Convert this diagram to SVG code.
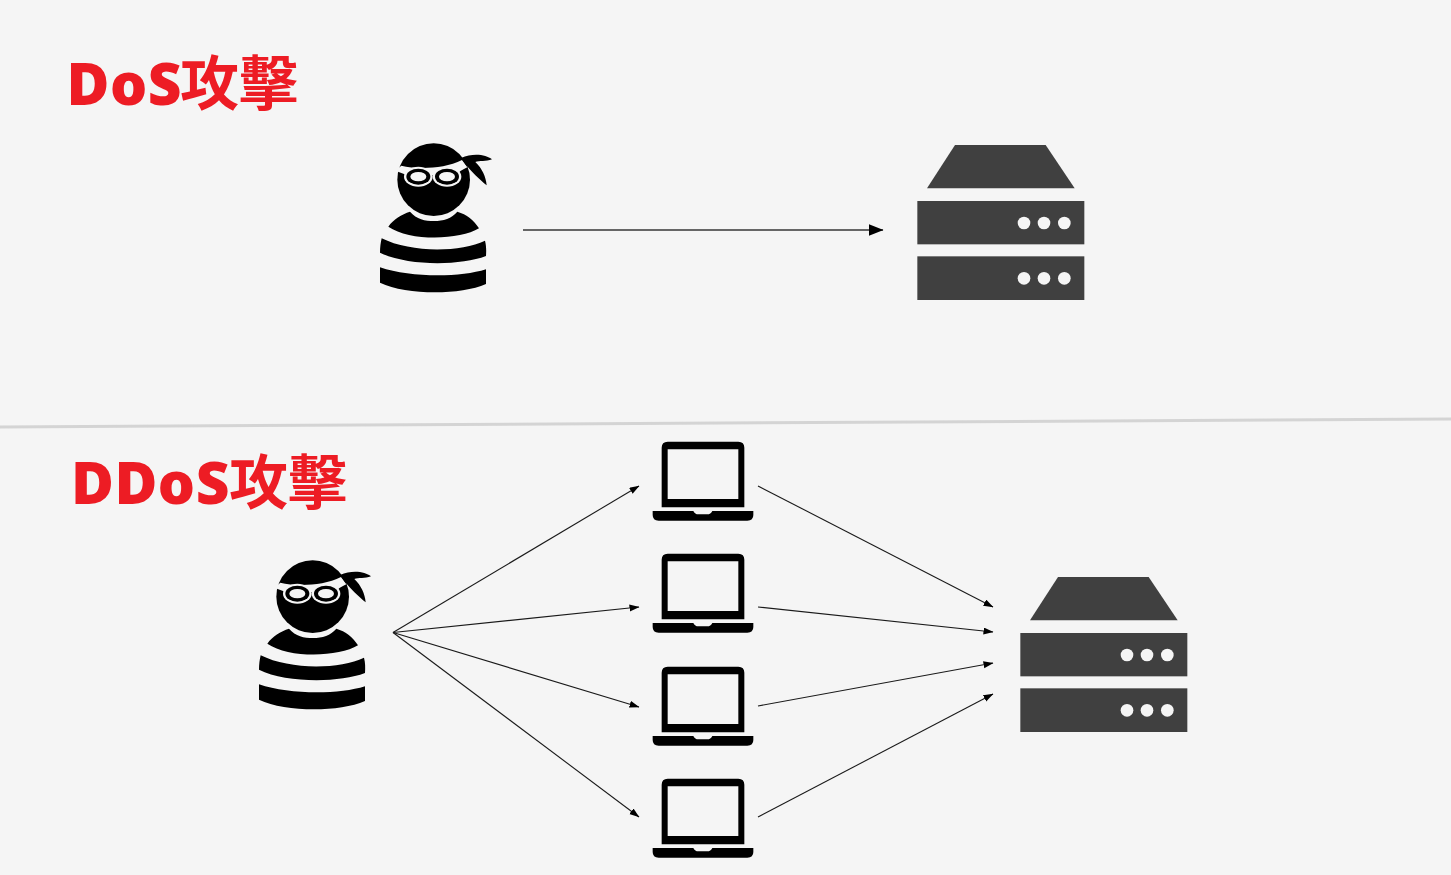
<svg xmlns="http://www.w3.org/2000/svg" width="1451" height="875" viewBox="0 0 1451 875">
<style>
.title{font-family:"Open Sans","Noto Sans CJK TC",sans-serif;font-weight:800;font-size:58.5px;letter-spacing:.5px;fill:#ed1c24}
.cjk{font-family:"Noto Sans CJK TC",sans-serif;font-weight:700;font-size:59px;letter-spacing:0}
.conn{fill:none;stroke:#1a1a1a;stroke-width:1.1;marker-end:url(#arrow)}
.conn-main{fill:none;stroke:#666;stroke-width:2;marker-end:url(#arrow-big)}
.srv{fill:#404040}
.dot{fill:#f5f5f5}
</style>
<defs>
<marker id="arrow" markerWidth="10" markerHeight="8" refX="9.5" refY="3.5" orient="auto" markerUnits="userSpaceOnUse"><path d="M0 0L10 3.5L0 7Z" fill="#000"/></marker>
<marker id="arrow-big" markerWidth="15" markerHeight="12" refX="14.5" refY="6" orient="auto" markerUnits="userSpaceOnUse"><path d="M0 0L15 6L0 12Z" fill="#000"/></marker>
<g id="thief" transform="scale(.33333)">
<circle cx="221" cy="149" r="109" fill="#000"/>
<path d="M106 122L124 107C170 118 250 118 306 90L322 112C305 120 295 127 290 135L140 135Z" fill="#f5f5f5"/>
<ellipse cx="175" cy="140" rx="43" ry="30" fill="#f5f5f5"/>
<ellipse cx="261" cy="140" rx="43" ry="30" fill="#f5f5f5"/>
<ellipse cx="175" cy="140" rx="36" ry="24" fill="#000"/>
<ellipse cx="261" cy="140" rx="36" ry="24" fill="#000"/>
<ellipse cx="175" cy="140" rx="24" ry="14" fill="#f5f5f5"/>
<ellipse cx="261" cy="140" rx="24" ry="14" fill="#f5f5f5"/>
<path d="M303 84C340 68 378 74 396 88C378 96 358 91 346 96C366 115 378 140 380 166C360 150 335 125 318 105Z" fill="#000"/>
<path d="M85 290C100 268 125 253 150 245C170 268 195 273 222 273C250 273 275 265 292 245C320 253 342 270 357 295C300 330 150 335 85 290Z" fill="#000"/>
<path d="M65 325C150 368 300 368 375 332C379 347 379 362 378 378C300 408 140 408 60 368C60 352 62 338 65 325Z" fill="#000"/>
<path d="M60 412C150 443 300 443 378 418L378 462C300 496 140 496 60 458Z" fill="#000"/>
</g>
<g id="laptop" transform="scale(.33333)">
<path fill-rule="evenodd" d="M83 35H295Q313 35 313 53V232H65V53Q65 35 83 35ZM83 58V207H295V58Z" fill="#000"/>
<path d="M38 243H160Q165 253 175 253H202Q212 253 217 243H340V255Q340 272 322 272H56Q38 272 38 255Z" fill="#000"/>
</g>
<g id="server" transform="scale(.33333)">
<path class="srv" d="M165 30H437L524 160H81Z"/>
<rect class="srv" x="52" y="198" width="501" height="130"/>
<rect class="srv" x="52" y="364" width="501" height="131"/>
<circle class="dot" cx="372" cy="264" r="19"/><circle class="dot" cx="432" cy="264" r="19"/><circle class="dot" cx="493" cy="264" r="19"/>
<circle class="dot" cx="372" cy="430" r="19"/><circle class="dot" cx="432" cy="430" r="19"/><circle class="dot" cx="493" cy="430" r="19"/>
</g>
</defs>
<rect width="1451" height="875" fill="#f5f5f5"/>
<path d="M0 427L1451 419" stroke="#d4d4d4" stroke-width="3" fill="none"/>
<text id="title-dos" class="title" x="66.5" y="105">DoS<tspan class="cjk" x="180">攻擊</tspan></text>
<text id="title-ddos" class="title" x="71" y="504">DDoS<tspan class="cjk" x="229">攻擊</tspan></text>
<g id="dos-attacker"><use href="#thief" transform="translate(360 130)"/></g>
<g id="dos-server"><use href="#server" transform="translate(900 135)"/></g>
<g id="ddos-attacker"><use href="#thief" transform="translate(239 547)"/></g>
<g id="bot-1"><use href="#laptop" transform="translate(640 430)"/></g>
<g id="bot-2"><use href="#laptop" transform="translate(640 542)"/></g>
<g id="bot-3"><use href="#laptop" transform="translate(640 655)"/></g>
<g id="bot-4"><use href="#laptop" transform="translate(640 767)"/></g>
<g id="ddos-server"><use href="#server" transform="translate(1003 567)"/></g>
<g id="connectors">
<path class="conn-main" d="M523 230H883"/>
<path class="conn" d="M393 632.5L639 486"/>
<path class="conn" d="M393 632.5L639 607"/>
<path class="conn" d="M393 632.5L639 707"/>
<path class="conn" d="M393 632.5L639 817"/>
<path class="conn" d="M758 486L993 607"/>
<path class="conn" d="M758 607L993 632"/>
<path class="conn" d="M758 706L993 663"/>
<path class="conn" d="M758 817L993 694"/>
</g>
</svg>
